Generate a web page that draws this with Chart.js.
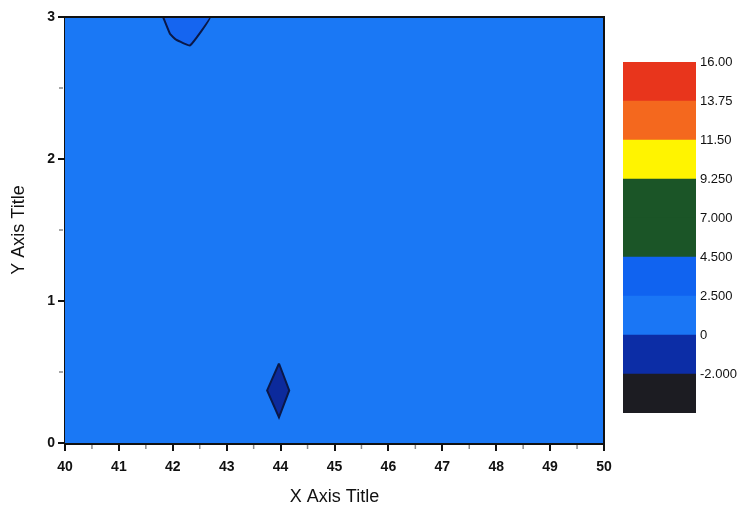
<!DOCTYPE html>
<html>
<head>
<meta charset="utf-8">
<title>Contour plot</title>
<script src="https://cdn.jsdelivr.net/npm/chart.js@4/dist/chart.umd.min.js"></script>
<style>
  html, body { margin: 0; padding: 0; background: #ffffff; }
  #wrap { position: relative; width: 742px; height: 512px; }
  #main { position: absolute; left: 0; top: 0; }
  #bar { position: absolute; left: 600px; top: 40px; }
</style>
</head>
<body>
<div id="wrap">
  <canvas id="main" width="742" height="512"></canvas>
  <canvas id="bar" width="142" height="400"></canvas>
</div>
<script>
// Grid extent of the contoured field
const fieldX = [40, 50, 50, 40];
const fieldY = [0, 0, 3, 3];

// Closed contour near the top edge (2.5 – 4.5 band)
const peakX = [41.82, 41.95, 42.06, 42.32, 42.69, 41.82];
const peakY = [3.0, 2.88, 2.84, 2.80, 3.0, 3.0];

// Closed contour around the low point (-2 – 0 band)
const pitX = [43.97, 44.16, 43.97, 43.75, 43.97];
const pitY = [0.56, 0.37, 0.18, 0.37, 0.56];

// Contour levels shown on the colour scale, top to bottom
const levelLabels = ['16.00', '13.75', '11.50', '9.250', '7.000', '4.500', '2.500', '0', '-2.000'];
// Band colours, bottom (below -2) to top (13.75 – 16)
const bandColors = ['#1c1c22', '#0c2da6', '#1a76f5', '#1063f0', '#1b5527', '#1b5527', '#fff400', '#f4681e', '#e8351c'];

const FIELD_COLOR = '#1a78f5';
const PEAK_COLOR = '#1565f0';
const PIT_COLOR = '#0c2a9c';
const LINE_COLOR = '#0a1848';

const toPts = (xs, ys) => xs.map((x, i) => ({ x: x, y: ys[i] }));

// Short minor ticks at the half-steps and a full frame round the plot
const frameAndMinor = {
  id: 'frameAndMinor',
  afterDraw(chart) {
    const { ctx, chartArea: a, scales } = chart;
    ctx.save();
    ctx.strokeStyle = '#8a8a8a';
    ctx.lineWidth = 1.5;
    for (let v = 40.5; v < 50; v += 1) {
      const px = scales.x.getPixelForValue(v);
      ctx.beginPath(); ctx.moveTo(px, a.bottom + 2); ctx.lineTo(px, a.bottom + 6); ctx.stroke();
    }
    for (let v = 0.5; v < 3; v += 1) {
      const py = scales.y.getPixelForValue(v);
      ctx.beginPath(); ctx.moveTo(a.left - 2, py); ctx.lineTo(a.left - 6, py); ctx.stroke();
    }
    ctx.strokeStyle = '#111';
    ctx.lineWidth = 2;
    ctx.beginPath();
    ctx.moveTo(a.left, a.top); ctx.lineTo(a.right, a.top); ctx.lineTo(a.right, a.bottom);
    ctx.stroke();
    ctx.restore();
  }
};

const tickFont = { family: 'Liberation Sans, Arial, sans-serif', size: 14, weight: 'bold' };
const titleFont = { family: 'Liberation Sans, Arial, sans-serif', size: 18, weight: 'normal' };

new Chart(document.getElementById('main'), {
  type: 'line',
  data: {
    datasets: [
      // lower order draws on top, so the background field gets the highest order
      { data: toPts(peakX, peakY), order: 1, fill: 'shape', backgroundColor: PEAK_COLOR, borderColor: LINE_COLOR, borderWidth: 2, pointRadius: 0, tension: 0.1 },
      { data: toPts(pitX, pitY), order: 1, fill: 'shape', backgroundColor: PIT_COLOR, borderColor: LINE_COLOR, borderWidth: 2, pointRadius: 0 },
      { data: toPts(fieldX, fieldY), order: 5, fill: 'shape', backgroundColor: FIELD_COLOR, borderWidth: 0, pointRadius: 0 }
    ]
  },
  options: {
    responsive: false,
    animation: false,
    layout: { padding: { left: 0, right: 138, top: 17, bottom: 0 } },
    plugins: { legend: { display: false }, tooltip: { enabled: false } },
    scales: {
      x: {
        type: 'linear', min: 40, max: 50,
        afterFit(s) { s.height = 69; },
        ticks: { stepSize: 1, color: '#111', font: tickFont, padding: 8, maxRotation: 0 },
        grid: { drawOnChartArea: false, color: '#111', lineWidth: 2, tickLength: 8 },
        border: { display: true, color: '#111', width: 3 },
        title: { display: true, text: 'X Axis Title', color: '#111', font: titleFont, padding: { top: 4, bottom: 4 } }
      },
      y: {
        type: 'linear', min: 0, max: 3,
        afterFit(s) { s.width = 65; },
        ticks: { stepSize: 1, color: '#111', font: tickFont, padding: 3 },
        grid: { drawOnChartArea: false, color: '#111', lineWidth: 2, tickLength: 7 },
        border: { display: true, color: '#111', width: 3 },
        title: { display: true, text: 'Y Axis Title', color: '#111', font: titleFont, padding: { top: 8, bottom: 8 } }
      }
    }
  },
  plugins: [frameAndMinor]
});

// Colour scale: one stacked column, one equal-height segment per band
new Chart(document.getElementById('bar'), {
  type: 'bar',
  data: {
    labels: [''],
    datasets: bandColors.map(c => ({ data: [1], backgroundColor: c, borderWidth: 0, barPercentage: 1, categoryPercentage: 1 }))
  },
  options: {
    responsive: false,
    animation: false,
    layout: { padding: { left: 23, right: 0, top: 22, bottom: 27 } },
    plugins: { legend: { display: false }, tooltip: { enabled: false } },
    scales: {
      x: { stacked: true, display: false },
      y: {
        stacked: true, position: 'right', min: 0, max: bandColors.length,
        afterFit(s) { s.width = 46; },
        afterBuildTicks(s) { s.ticks = levelLabels.map((_, i) => ({ value: bandColors.length - i })); },
        ticks: {
          color: '#111', padding: 4,
          font: { family: 'Liberation Sans, Arial, sans-serif', size: 13 },
          callback: (v) => levelLabels[bandColors.length - v]
        },
        grid: { display: false, tickLength: 0 },
        border: { display: false }
      }
    }
  }
});
</script>
</body>
</html>
